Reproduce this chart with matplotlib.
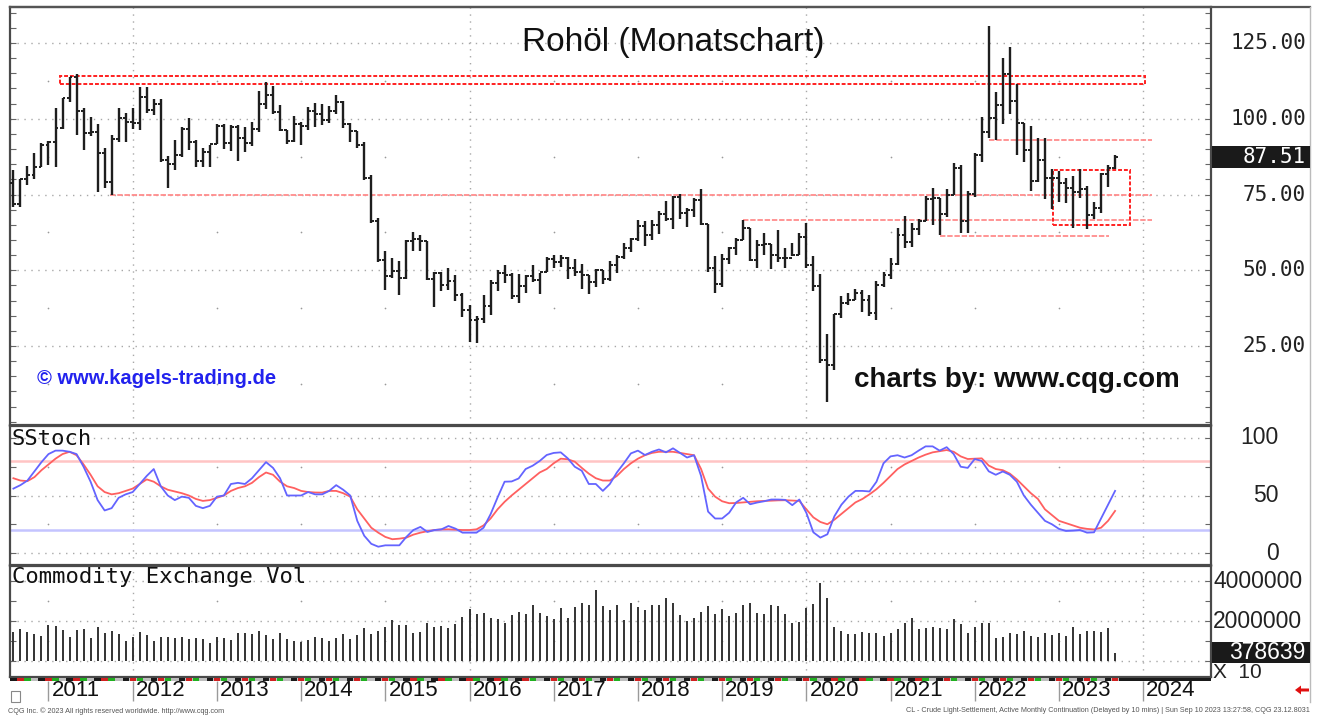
import numpy as np
import matplotlib
matplotlib.use("Agg")
import matplotlib.pyplot as plt
from matplotlib.patches import Rectangle, Polygon
from matplotlib.lines import Line2D
from matplotlib.ticker import MultipleLocator
from matplotlib.transforms import blended_transform_factory

# ---------------- data (monthly, Aug 2010 .. Sep 2023) ----------------
opens = [78.9, 71.9, 80.0, 81.4, 84.1,
         91.4, 92.2, 97.0, 106.7, 113.9, 102.7, 95.4, 95.7, 88.8, 79.2, 93.2, 100.4,
         98.8, 98.5, 107.1, 103.0, 104.9, 86.5, 85.0, 88.1, 96.5, 92.2, 86.2, 88.9,
         91.8, 97.5, 92.1, 97.2, 93.5, 92.0, 96.6, 105.0, 107.7, 102.3, 96.4, 92.7,
         98.4, 97.5, 102.6, 101.6, 99.7, 102.7, 105.4, 98.2, 96.0, 91.2, 80.5, 66.2,
         53.3, 48.2, 49.8, 47.6, 59.6, 60.3, 59.5, 47.1, 49.2, 45.1, 46.6, 41.7,
         37.0, 33.6, 33.8, 38.3, 45.9, 49.1, 48.3, 41.6, 44.7, 48.2, 46.9, 49.4,
         53.7, 52.8, 54.0, 50.6, 49.3, 48.3, 46.0, 50.2, 47.2, 51.7, 54.4, 57.4,
         60.4, 64.7, 61.6, 64.9, 68.6, 67.0, 74.2, 68.8, 69.8, 73.3, 65.3, 50.9,
         45.4, 53.8, 57.2, 60.1, 63.9, 53.5, 58.5, 58.6, 55.1, 54.1, 54.2, 55.2,
         61.1, 51.6, 44.8, 20.5, 18.8, 35.5, 39.3, 40.3, 42.6, 40.2, 35.8, 45.3,
         48.5, 52.2, 61.5, 59.2, 63.6, 66.3, 73.5, 74.0, 68.5, 75.0, 83.6, 66.2,
         75.2, 88.2, 95.7, 100.3, 104.7, 114.7, 105.8, 98.6, 89.6, 79.5, 86.5, 80.6,
         80.3, 78.9, 77.1, 75.7, 76.8, 68.1, 70.6, 81.8, 83.6]
highs = [82.97, 80.0, 84.4, 88.6, 92.0,
         92.6, 103.4, 106.95, 113.9, 114.8, 103.4, 100.6, 98.4, 90.5, 94.7, 103.4, 101.8,
         103.7, 110.55, 110.55, 106.4, 106.4, 87.6, 92.9, 97.4, 100.4, 92.9, 90.3, 91.5,
         98.2, 98.2, 97.8, 97.8, 97.4, 99.0, 109.3, 112.2, 110.7, 104.4, 96.4, 100.8,
         98.9, 103.8, 105.2, 105.0, 104.2, 107.7, 106.0, 98.7, 96.0, 92.3, 81.4, 67.4,
         56.3, 54.2, 53.0, 59.9, 62.6, 61.6, 59.6, 49.3, 49.4, 50.9, 48.4, 42.6,
         38.4, 34.8, 41.9, 46.8, 50.2, 51.7, 49.0, 48.75, 48.4, 51.9, 49.2, 54.5,
         55.2, 54.9, 54.5, 53.8, 52.0, 48.4, 50.4, 50.2, 52.9, 54.9, 59.05, 60.5,
         66.7, 66.3, 66.6, 69.6, 72.9, 74.5, 75.3, 70.4, 73.9, 76.9, 65.3, 54.6,
         55.4, 57.8, 60.7, 66.6, 63.9, 60.1, 62.3, 58.8, 63.4, 57.5, 59.0, 62.3,
         65.65, 54.7, 48.7, 29.1, 35.5, 41.6, 42.5, 43.8, 43.4, 41.9, 46.3, 49.3,
         53.9, 63.8, 68.0, 65.5, 67.0, 74.4, 77.0, 74.0, 76.7, 85.4, 84.9, 76.1,
         88.8, 100.5, 130.5, 109.0, 120.0, 123.7, 111.5, 98.6, 97.7, 93.6, 93.7, 83.3,
         82.7, 80.6, 81.0, 83.5, 77.7, 72.7, 82.0, 84.9, 88.1]
lows = [70.76, 70.8, 78.1, 80.1, 84.0,
        84.9, 84.1, 96.6, 105.6, 94.6, 89.6, 94.2, 75.7, 77.1, 74.95, 92.5, 92.5,
        96.7, 96.2, 102.0, 101.2, 85.9, 77.3, 83.0, 87.4, 89.7, 84.0, 84.1, 84.1,
        91.7, 90.1, 89.3, 86.1, 89.0, 91.1, 95.6, 103.1, 101.7, 95.9, 91.8, 92.5,
        91.2, 96.2, 97.4, 98.1, 98.6, 101.7, 97.1, 92.5, 90.4, 79.8, 65.7, 52.6,
        43.6, 47.4, 42.0, 47.0, 56.5, 56.5, 46.7, 37.8, 43.2, 43.5, 40.0, 34.5,
        26.2, 26.1, 32.6, 35.2, 43.0, 45.8, 40.6, 39.2, 42.5, 46.1, 42.2, 49.4,
        50.7, 51.2, 47.1, 48.2, 43.8, 42.1, 44.4, 45.6, 46.5, 49.1, 53.8, 56.1,
        59.8, 58.1, 59.95, 62.0, 66.3, 63.6, 67.0, 64.4, 67.6, 64.9, 49.4, 42.4,
        44.35, 52.0, 55.0, 60.0, 53.1, 50.6, 55.0, 50.5, 52.8, 50.9, 54.7, 55.0,
        50.6, 43.3, 19.3, 6.5, 17.0, 34.4, 38.7, 40.1, 36.1, 34.9, 33.6, 44.6,
        47.2, 51.9, 57.3, 57.6, 61.6, 66.1, 65.0, 61.7, 67.6, 74.96, 62.4, 62.4,
        74.3, 85.7, 93.5, 92.9, 98.2, 101.5, 88.2, 85.7, 76.25, 79.3, 73.6, 70.1,
        72.5, 72.3, 64.1, 73.8, 63.6, 66.8, 69.0, 77.6, 83.3]
closes = [71.9, 80.0, 81.4, 84.1, 91.4,
          92.2, 97.0, 106.7, 113.9, 102.7, 95.4, 95.7, 88.8, 79.2, 93.2, 100.4, 98.8,
          98.5, 107.1, 103.0, 104.9, 86.5, 85.0, 88.1, 96.5, 92.2, 86.2, 88.9, 91.8,
          97.5, 92.1, 97.2, 93.5, 92.0, 96.6, 105.0, 107.7, 102.3, 96.4, 92.7, 98.4,
          97.5, 102.6, 101.6, 99.7, 102.7, 105.4, 98.2, 96.0, 91.2, 80.5, 66.2, 53.3,
          48.2, 49.8, 47.6, 59.6, 60.3, 59.5, 47.1, 49.2, 45.1, 46.6, 41.7, 37.0,
          33.6, 33.8, 38.3, 45.9, 49.1, 48.3, 41.6, 44.7, 48.2, 46.9, 49.4, 53.7,
          52.8, 54.0, 50.6, 49.3, 48.3, 46.0, 50.2, 47.2, 51.7, 54.4, 57.4, 60.4,
          64.7, 61.6, 64.9, 68.6, 67.0, 74.2, 68.8, 69.8, 73.3, 65.3, 50.9, 45.4,
          53.8, 57.2, 60.1, 63.9, 53.5, 58.5, 58.6, 55.1, 54.1, 54.2, 55.2, 61.1,
          51.6, 44.8, 20.5, 18.8, 35.5, 39.3, 40.3, 42.6, 40.2, 35.8, 45.3, 48.5,
          52.2, 61.5, 59.2, 63.6, 66.3, 73.5, 74.0, 68.5, 75.0, 83.6, 66.2, 75.2,
          88.2, 95.7, 100.3, 104.7, 114.7, 105.8, 98.6, 89.6, 79.5, 86.5, 80.6, 80.3,
          78.9, 77.1, 75.7, 76.8, 68.1, 70.6, 81.8, 83.6, 87.51]

stoch_k = [56, 59, 63, 71, 79, 86, 89, 89, 88, 86,
           75, 62, 46, 37, 39, 48, 51, 53, 60, 67,
           73, 58, 50, 46, 49, 48, 41, 39, 41, 49,
           50, 60, 61, 60, 65, 72, 79, 74, 65, 50,
           50, 50, 53, 51, 51, 54, 59, 55, 50, 28,
           15, 8, 5.5, 6.7, 6.7, 6.7, 14, 20, 22.7, 18.3,
           20, 20.6, 23.5, 21.2, 17.7, 17.7, 17.7, 22, 33.7, 48.3,
           62, 62.2, 64.8, 73, 75.9, 80, 85.2, 87, 87.5, 82.3,
           75, 71.5, 60, 60, 54, 60, 70, 78, 86.6, 89,
           85.2, 88, 90, 87.5, 91, 87, 83, 85, 67, 36,
           30, 30, 35, 44, 48, 42.4, 43.9, 45, 46.5, 46.5,
           46.2, 41.6, 46.5, 35, 18, 13.4, 16.3, 32, 42, 49,
           54, 54, 53.5, 62, 78, 84, 85, 83, 85, 89,
           92.7, 92.7, 89, 92, 86, 75, 74, 81.7, 80, 71,
           68, 70.9, 68, 62, 50, 42, 35, 28, 25, 21,
           19.2, 19.5, 20, 17.7, 18, 30, 42, 54]
stoch_d = [65, 63, 62.5, 66, 72, 77, 82, 86, 88, 85,
           77, 68, 58, 53, 51, 52, 54, 56, 60, 64,
           62, 58, 55, 53.5, 52, 50, 47, 45.3, 46, 48,
           50, 54, 56.5, 58, 61, 66, 70, 68, 62, 58,
           56.5, 54, 53, 52.6, 52.5, 54, 54, 52, 49, 38,
           30, 22, 17.7, 14, 12, 12.5, 13.4, 16, 17.7, 19,
           20, 20.5, 20.6, 20.3, 20, 20, 20.6, 24, 30, 38,
           44.5, 50, 55, 60, 65, 70, 73, 78, 82, 81.5,
           79.4, 74, 69, 65, 63, 63, 67, 73, 78, 82,
           85, 87, 88, 88, 88, 87, 86, 85, 73, 56,
           49, 45, 43.3, 43.5, 44, 44.5, 45, 45.3, 45.5, 45.8,
           45.9, 45.6, 45.3, 38, 31, 27, 25, 29, 34, 39,
           44, 47, 51, 55.5, 61, 67, 73, 77, 80, 83,
           85.5, 87.5, 88.5, 89.5, 88, 84, 81.7, 82, 82.3, 76,
           73, 72, 69, 64, 58, 52, 47, 38, 33, 28,
           26, 24, 22, 21, 20.5, 22, 28, 36.6]

volume_m = [1.47, 1.6, 1.47, 1.35, 1.25, 1.8, 1.75, 1.55, 1.22, 1.55,
            1.6, 1.13, 1.72, 1.38, 1.52, 1.35, 1.0, 1.22, 1.47, 1.32,
            1.02, 1.22, 1.22, 1.13, 1.18, 1.12, 1.15, 1.12, 0.88, 1.18,
            1.15, 1.05, 1.38, 1.38, 1.35, 1.52, 1.3, 1.1, 1.38, 1.08,
            1.0, 0.97, 1.05, 1.18, 1.15, 1.02, 1.15, 1.35, 1.12, 1.3,
            1.63, 1.35, 1.52, 1.68, 2.05, 1.8, 1.78, 1.38, 1.47, 1.92,
            1.72, 1.75, 1.63, 1.83, 2.18, 2.58, 2.35, 2.42, 2.17, 2.1,
            1.92, 2.3, 2.47, 2.33, 2.78, 2.42, 2.25, 2.08, 2.65, 2.13,
            2.72, 2.92, 2.8, 3.55, 2.75, 2.55, 2.8, 2.05, 2.88, 2.72,
            2.55, 2.8, 2.8, 3.13, 2.88, 2.3, 2.0, 2.13, 2.47, 2.77,
            2.33, 2.6, 2.27, 2.42, 2.8, 2.88, 2.38, 2.33, 2.8, 2.75,
            2.33, 1.92, 1.97, 2.63, 2.85, 3.92, 3.13, 1.72, 1.52, 1.35,
            1.35, 1.43, 1.42, 1.38, 1.25, 1.4, 1.58, 1.88, 2.13, 1.58,
            1.63, 1.72, 1.67, 1.6, 2.08, 1.85, 1.42, 1.68, 1.92, 1.92,
            1.17, 1.22, 1.38, 1.35, 1.52, 1.25, 1.22, 1.42, 1.3, 1.38,
            1.25, 1.68, 1.35, 1.5, 1.5, 1.47, 1.65, 0.38]

years = ["2011", "2012", "2013", "2014", "2015", "2016", "2017",
         "2018", "2019", "2020", "2021", "2022", "2023", "2024"]
price_ticks = [25, 50, 75, 100, 125]
price_tick_labels = ["25.00", "50.00", "75.00", "100.00", "125.00"]
stoch_ticks = [0, 50, 100]
vol_ticks = [2.0, 4.0]
vol_tick_labels = ["2000000", "4000000"]
last_price_label = "87.51"
last_vol_label = "378639"

# ---------------- layout helpers ----------------
W, H = 1322, 716
fig = plt.figure(figsize=(W / 100, H / 100), dpi=100)
fig.patch.set_facecolor("white")


def fx(px):
    return px / W


def fy(py):
    return 1 - py / H


def add_axes_px(l, t, r, b):
    return fig.add_axes([fx(l), fy(b), (r - l) / W, (b - t) / H])


ax_p = add_axes_px(10, 7, 1211, 425)
ax_s = add_axes_px(10, 426, 1211, 565)
ax_v = add_axes_px(10, 566, 1211, 677)
ax_d = add_axes_px(10, 677, 1211, 703)

n = len(closes)
x = np.arange(n)
XMIN, XMAX = -0.485, 170.67
year_idx = [5 + 12 * k for k in range(len(years))]
grid_years = [17, 65, 113, 161]

DOT = (0, (1, 4))
GRID_C = "#a8a8a8"
SPINE_C = "#4a4a4a"

for ax in (ax_p, ax_s, ax_v):
    ax.set_xlim(XMIN, XMAX)
    for s in ax.spines.values():
        s.set_color(SPINE_C)
        s.set_linewidth(1.6)
    ax.set_xticks([])
    ax.tick_params(axis="y", which="both", direction="in", left=True, right=True,
                   labelleft=False, labelright=False, length=4, color="#666666", width=0.8)
    for gx in grid_years:
        ax.axvline(gx, color=GRID_C, lw=1.0, ls=DOT, zorder=0)

# ---------------- price panel ----------------
ax_p.set_ylim(-1.07, 136.9)
ax_p.yaxis.set_major_locator(MultipleLocator(5))
for yv in price_ticks:
    ax_p.axhline(yv, color=GRID_C, lw=1.0, ls=DOT, zorder=0)
mid_levels = [12.5, 37.5, 62.5, 87.5, 112.5]
dx = [yi for yi in year_idx if yi not in grid_years]
ax_p.scatter(np.repeat(dx, len(mid_levels)), np.tile(mid_levels, len(dx)),
             s=1.5, color="#999999", zorder=0, linewidths=0)

BAR_C = "#1e1e1e"
ax_p.vlines(x, lows, highs, color=BAR_C, lw=1.7, zorder=3)
ax_p.hlines(opens, x - 0.42, x, color=BAR_C, lw=1.4, zorder=3)
ax_p.hlines(closes, x, x + 0.42, color=BAR_C, lw=1.4, zorder=3)


def idx(px):
    return (px - 13.4) / 7.017


RED = "#ff2020"
PINK = "#ff8c8c"
ax_p.add_patch(Rectangle((idx(60), 111.6), idx(1145) - idx(60), 2.5, fill=False,
                         edgecolor=RED, lw=1.4, ls=(0, (2, 1)), zorder=2))
ax_p.hlines(74.95, idx(110), idx(1152), color=PINK, lw=1.3, ls=(0, (3, 1)), zorder=2)
ax_p.hlines(66.6, idx(743), idx(1152), color=PINK, lw=1.3, ls=(0, (3, 1)), zorder=2)
ax_p.hlines(93.0, idx(989), idx(1152), color=PINK, lw=1.3, ls=(0, (3, 1)), zorder=2)
ax_p.hlines(61.3, idx(940), idx(1109), color=PINK, lw=1.3, ls=(0, (3, 1)), zorder=2)
ax_p.add_patch(Rectangle((idx(1053), 65.0), idx(1130) - idx(1053), 18.0, fill=False,
                         edgecolor=RED, lw=1.4, ls=(0, (2, 1)), zorder=2))

fig.text(fx(673), fy(43), "Rohöl (Monatschart)", ha="center", va="center",
         fontsize=24, family="Liberation Sans", color="#111111")
fig.text(fx(37), fy(378), "© www.kagels-trading.de", ha="left", va="center",
         fontsize=14.5, fontweight="bold", family="Liberation Sans", color="#2222ee")
fig.text(fx(854), fy(380), "charts by: www.cqg.com", ha="left", va="center",
         fontsize=20, fontweight="bold", family="Liberation Sans", color="#111111")

tr_p = blended_transform_factory(fig.transFigure, ax_p.transData)
for yv, lab in zip(price_ticks, price_tick_labels):
    ax_p.text(fx(1306), yv, lab, transform=tr_p, ha="right", va="center",
              fontsize=15, family="DejaVu Sans Mono", color="#222222", clip_on=False)
fig.add_artist(Rectangle((fx(1212), fy(168)), 98 / W, 22 / H, transform=fig.transFigure,
                         facecolor="#1a1a1a", edgecolor="none", zorder=5))
fig.text(fx(1306), fy(157), last_price_label, ha="right", va="center",
         fontsize=15, family="DejaVu Sans Mono", color="white", zorder=6)

# ---------------- stochastic panel ----------------
ax_s.set_ylim(-10.4, 110.4)
ax_s.yaxis.set_major_locator(MultipleLocator(25))
for yv in stoch_ticks:
    ax_s.axhline(yv, color=GRID_C, lw=1.0, ls=DOT, zorder=0)
ax_s.scatter(np.repeat(dx, 2), np.tile([25, 75], len(dx)), s=1.5, color="#999999",
             zorder=0, linewidths=0)
ax_s.axhline(80, color="#ffc4c4", lw=1.8, zorder=1)
ax_s.axhline(20, color="#c4c4ff", lw=1.8, zorder=1)
ax_s.plot(x, stoch_d, color="#ff6060", lw=1.3, zorder=3)
ax_s.plot(x, stoch_k, color="#6464ff", lw=1.3, zorder=4)
ax_s.text(0.0015, 0.905, "SStoch", transform=ax_s.transAxes, ha="left", va="center",
          fontsize=16, family="DejaVu Sans Mono", color="#111111")
tr_s = blended_transform_factory(fig.transFigure, ax_s.transData)
for yv in stoch_ticks:
    ax_s.text(fx(1279), yv, str(yv), transform=tr_s, ha="right", va="center",
              fontsize=16.5, family="Liberation Sans", color="#222222", clip_on=False)

# ---------------- volume panel ----------------
ax_v.set_ylim(-0.8, 4.75)
ax_v.yaxis.set_major_locator(MultipleLocator(1))
for yv in [0, 2, 4]:
    ax_v.axhline(yv, color=GRID_C, lw=1.0, ls=DOT, zorder=0)
ax_v.scatter(np.repeat(dx, 2), np.tile([1, 3], len(dx)), s=1.5, color="#999999",
             zorder=0, linewidths=0)
ax_v.vlines(x, 0, volume_m, color="#333333", lw=1.4, zorder=3)
ax_v.text(0.0015, 0.9, "Commodity Exchange Vol", transform=ax_v.transAxes, ha="left",
          va="center", fontsize=16, family="DejaVu Sans Mono", color="#111111")
tr_v = blended_transform_factory(fig.transFigure, ax_v.transData)
for yv, lab in zip(vol_ticks, vol_tick_labels):
    ax_v.text(fx(1213), yv, lab, transform=tr_v, ha="left", va="center",
              fontsize=16.5, family="Liberation Sans", color="#222222", clip_on=False)
fig.text(fx(1213), fy(673), "X  10", ha="left", va="center", fontsize=15,
         family="Liberation Sans", color="#222222", zorder=4)
fig.add_artist(Rectangle((fx(1212), fy(663)), 98 / W, 21 / H, transform=fig.transFigure,
                         facecolor="#1a1a1a", edgecolor="none", zorder=5))
fig.text(fx(1305), fy(652.5), last_vol_label, ha="right", va="center", fontsize=16.5,
         family="Liberation Sans", color="white", zorder=6)

# ---------------- date strip ----------------
ax_d.set_xlim(XMIN, XMAX)
ax_d.set_ylim(703, 677)
ax_d.axis("off")
ax_d.broken_barh([(XMIN, n - 0.5 - XMIN)], (677.5, 3.0), facecolors="#bdbdbd")
cols = ["#1a1a1a", "#d02020", "#20b020", None]
segs = {c: [] for c in cols if c}
for i in range(n):
    c = cols[i % 4]
    if c:
        segs[c].append((i - 0.45, 0.9))
for c, s in segs.items():
    ax_d.broken_barh(s, (677.5, 3.0), facecolors=c)
ax_d.broken_barh([(n - 0.5, XMAX - n + 0.5)], (677.5, 3.0), facecolors="#1a1a1a")
for yi, lab in zip(year_idx, years):
    ax_d.vlines(yi, 680.5, 701, color="#9a9a9a", lw=1.0)
    ax_d.text(yi + 0.45, 690.5, lab, ha="left", va="center", fontsize=16,
              family="Liberation Sans", color="#111111")

# ---------------- frame & decorations ----------------
fig.add_artist(Line2D([fx(10), fx(1310)], [fy(7), fy(7)], color="#555555", lw=1.6))
fig.add_artist(Line2D([fx(1310), fx(1310)], [fy(7), fy(702)], color="#bbbbbb", lw=1.0))
fig.add_artist(Rectangle((fx(11), fy(702)), 9 / W, 11 / H, transform=fig.transFigure,
                         facecolor="white", edgecolor="#888888", lw=0.8))
arrow_px = [(1295, 690), (1301, 685.5), (1301, 688.5), (1309, 688.5),
            (1309, 691.5), (1301, 691.5), (1301, 694.5)]
fig.add_artist(Polygon([(fx(a), fy(b)) for a, b in arrow_px], closed=True,
                       transform=fig.transFigure, facecolor="#e01010", edgecolor="none"))
fig.text(fx(8), fy(711), "CQG Inc. © 2023 All rights reserved worldwide. http://www.cqg.com",
         ha="left", va="center", fontsize=5.2, family="Liberation Sans", color="#555555")
fig.text(fx(1310), fy(711),
         "CL - Crude Light-Settlement, Active Monthly Continuation (Delayed by 10 mins) | "
         "Sun Sep 10 2023 13:27:58, CQG 23.12.8031",
         ha="right", va="center", fontsize=5.2, family="Liberation Sans", color="#555555")

fig.savefig("out.png", dpi=100, facecolor="white")
